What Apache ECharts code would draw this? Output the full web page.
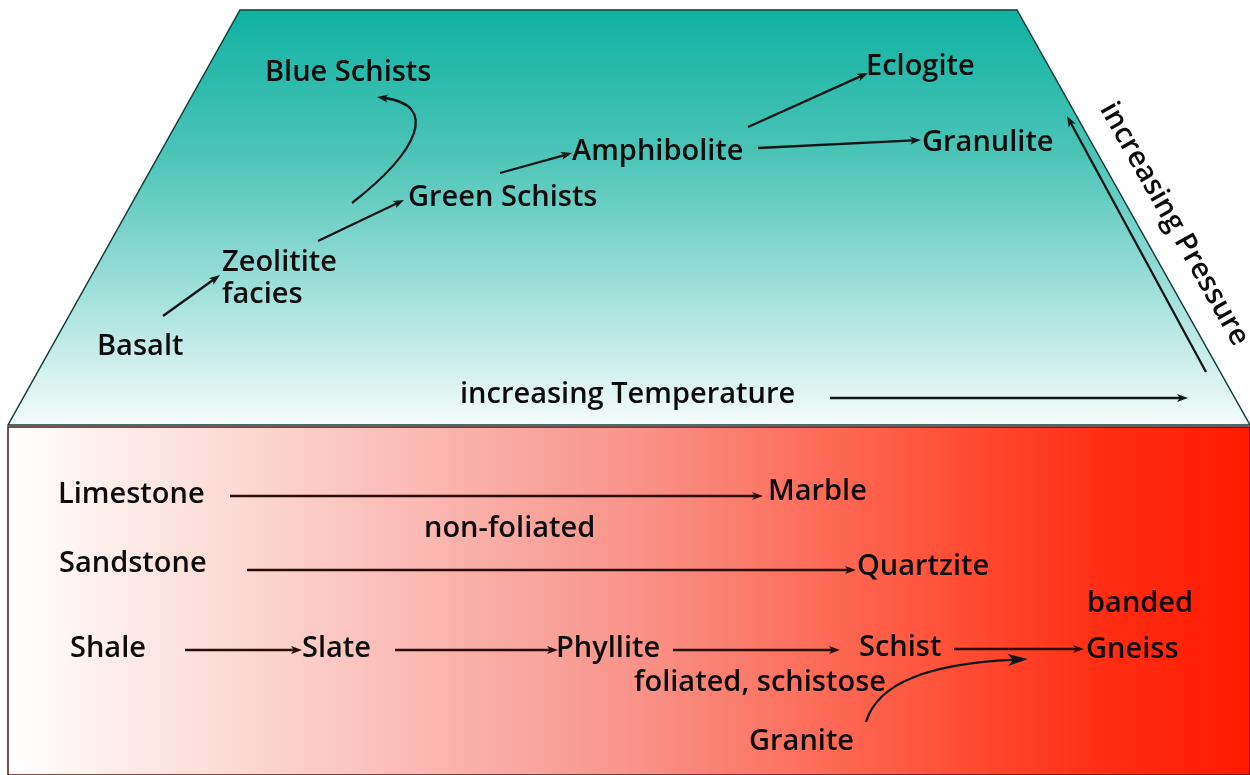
<!DOCTYPE html>
<html>
<head>
<meta charset="utf-8">
<script src="https://cdn.jsdelivr.net/npm/echarts@6/dist/echarts.min.js"></script>
<style>
html,body{margin:0;padding:0;background:#fff;}
#chart{width:1250px;height:775px;}
</style>
</head>
<body>
<div id="chart"></div>
<script>
// ---- Diagram content (diagram-space coordinates, x right, y down) ----
const topRegion = [[240, 10], [1017, 10], [1250, 425], [8, 425]];
const bottomRegion = [[8, 427], [1250, 427], [1250, 775], [8, 775]];

const labelNames = ['Blue Schists', 'Green Schists', 'Zeolitite', 'facies', 'Basalt', 'Amphibolite',
  'Eclogite', 'Granulite', 'increasing Temperature', 'Limestone', 'Marble', 'non-foliated',
  'Sandstone', 'Quartzite', 'banded', 'Shale', 'Slate', 'Phyllite', 'Schist', 'Gneiss',
  'foliated, schistose', 'Granite'];
const labelX = [265, 408, 222, 222, 97, 572, 866, 922, 460, 58, 768, 424, 59, 857, 1087, 70, 302, 556, 859, 1086, 634, 749];
const labelY = [73, 198, 263, 295, 347, 152, 67, 143, 395, 495, 492, 529, 564, 567, 604, 649, 649, 649, 648, 650, 683, 742];

const pressureLabel = 'increasing Pressure';
const pressurePos = [1174, 224];
const pressureAngle = -60.6;

const arrowFrom = [[163, 316], [318, 241], [500, 173], [748, 127], [758, 148], [830, 398], [1206, 372],
  [230, 496], [247, 570], [185, 650], [395, 650], [673, 650], [954, 649], [352, 203], [866, 722]];
const arrowTo = [[220, 275], [404, 200], [572, 153], [868, 73], [921, 140], [1188, 398], [1067, 116],
  [763, 496], [856, 570], [302, 650], [558, 650], [840, 650], [1084, 649], [377, 97], [1028, 659]];
// cubic bezier control points for the curved arrows (null = straight)
const arrowCtrl = [null, null, null, null, null, null, null, null, null, null, null, null, null,
  [[420, 150], [438, 105]], [[878, 682], [930, 664]]];
const arrowHeadBig = [false, false, false, false, false, false, false, false, false, false, false, false, false, false, true];

// ---- Build ----
const chart = echarts.init(document.getElementById('chart'), null, {renderer: 'canvas'});

const arrowData = arrowFrom.map((f, i) => {
  const c = arrowCtrl[i];
  return {value: [f[0], f[1], arrowTo[i][0], arrowTo[i][1],
    c ? c[0][0] : NaN, c ? c[0][1] : NaN, c ? c[1][0] : NaN, c ? c[1][1] : NaN, arrowHeadBig[i] ? 1 : 0, i >= 7 && i <= 12 ? 1 : 0]};
});

const textStyleBase = {
  fontFamily: '"Open Sans", "Noto Sans", sans-serif',
  fontWeight: 600,
  fontSize: 29,
  color: '#0c0c0c',
  opacity: 1
};

const labelData = labelNames.map((n, i) => ({name: n, value: [labelX[i], labelY[i]]}));

const option = {
  animation: false,
  grid: {left: 0, right: 0, top: 0, bottom: 0},
  xAxis: {type: 'value', min: 0, max: 1250, show: false},
  yAxis: {type: 'value', min: 0, max: 775, inverse: true, show: false},
  series: [
    {
      type: 'custom',
      silent: true,
      z: 1,
      data: [[0], [1]],
      renderItem: function (params, api) {
        const idx = params.dataIndex;
        const pts = (idx === 0 ? topRegion : bottomRegion).map(p => api.coord(p));
        let fill, stroke;
        if (idx === 0) {
          fill = new echarts.graphic.LinearGradient(0, 0, 0, 1, [
            {offset: 0, color: '#0fb2a3'},
            {offset: 0.35, color: '#4cc4b8'},
            {offset: 0.7, color: '#a6e2dc'},
            {offset: 1, color: '#f6fcfb'}
          ]);
          stroke = '#123c3a';
        } else {
          fill = new echarts.graphic.LinearGradient(0, 0, 1, 0, [
            {offset: 0, color: '#ffffff'},
            {offset: 0.25, color: '#fbcbc5'},
            {offset: 0.5, color: '#f8948b'},
            {offset: 0.72, color: '#ff5a42'},
            {offset: 0.88, color: '#ff2e14'},
            {offset: 1, color: '#ff1a00'}
          ]);
          stroke = '#4a1a14';
        }
        return {
          type: 'polygon',
          shape: {points: pts},
          style: {fill: fill, stroke: stroke, lineWidth: 1.5}
        };
      }
    },
    {
      type: 'custom',
      silent: true,
      z: 3,
      data: arrowData,
      renderItem: function (params, api) {
        const p0 = api.coord([api.value(0), api.value(1)]);
        const p3 = api.coord([api.value(2), api.value(3)]);
        const curved = !isNaN(api.value(4));
        const big = api.value(8) === 1;
        const dark = api.value(9) === 1 ? '#2a0c08' : '#101616';
        let dir;
        let children = [];
        const headLen = big ? 20 : 11;
        const headW = big ? 6 : 4;
        if (curved) {
          const p1 = api.coord([api.value(4), api.value(5)]);
          const p2 = api.coord([api.value(6), api.value(7)]);
          dir = [p3[0] - p2[0], p3[1] - p2[1]];
          const L = Math.hypot(dir[0], dir[1]);
          const ux = dir[0] / L, uy = dir[1] / L;
          const end = [p3[0] - ux * headLen * 0.7, p3[1] - uy * headLen * 0.7];
          children.push({
            type: 'bezierCurve',
            shape: {x1: p0[0], y1: p0[1], x2: end[0], y2: end[1], cpx1: p1[0], cpy1: p1[1], cpx2: p2[0], cpy2: p2[1]},
            style: {stroke: dark, lineWidth: 2.3, fill: null}
          });
        } else {
          dir = [p3[0] - p0[0], p3[1] - p0[1]];
          const L = Math.hypot(dir[0], dir[1]);
          const ux = dir[0] / L, uy = dir[1] / L;
          const end = [p3[0] - ux * headLen * 0.7, p3[1] - uy * headLen * 0.7];
          children.push({
            type: 'line',
            shape: {x1: p0[0], y1: p0[1], x2: end[0], y2: end[1]},
            style: {stroke: dark, lineWidth: 2.3}
          });
        }
        const L = Math.hypot(dir[0], dir[1]);
        const ux = dir[0] / L, uy = dir[1] / L;
        const nx = -uy, ny = ux;
        const bx = p3[0] - ux * headLen, by = p3[1] - uy * headLen;
        children.push({
          type: 'polygon',
          shape: {points: [
            [p3[0], p3[1]],
            [bx + nx * headW, by + ny * headW],
            [p3[0] - ux * headLen * 0.75, p3[1] - uy * headLen * 0.75],
            [bx - nx * headW, by - ny * headW]
          ]},
          style: {fill: dark}
        });
        return {type: 'group', children: children};
      }
    },
    {
      type: 'scatter',
      silent: true,
      z: 5,
      symbolSize: 0,
      itemStyle: {opacity: 1},
      data: labelData,
      label: Object.assign({
        show: true,
        position: 'right',
        distance: 0,
        formatter: '{b}'
      }, textStyleBase)
    },
    {
      type: 'scatter',
      silent: true,
      z: 5,
      symbolSize: 0,
      itemStyle: {opacity: 1},
      data: [{name: pressureLabel, value: pressurePos}],
      label: Object.assign({
        show: true,
        position: 'inside',
        rotate: pressureAngle,
        formatter: '{b}'
      }, textStyleBase)
    }
  ]
};
chart.setOption(option);
</script>
</body>
</html>
